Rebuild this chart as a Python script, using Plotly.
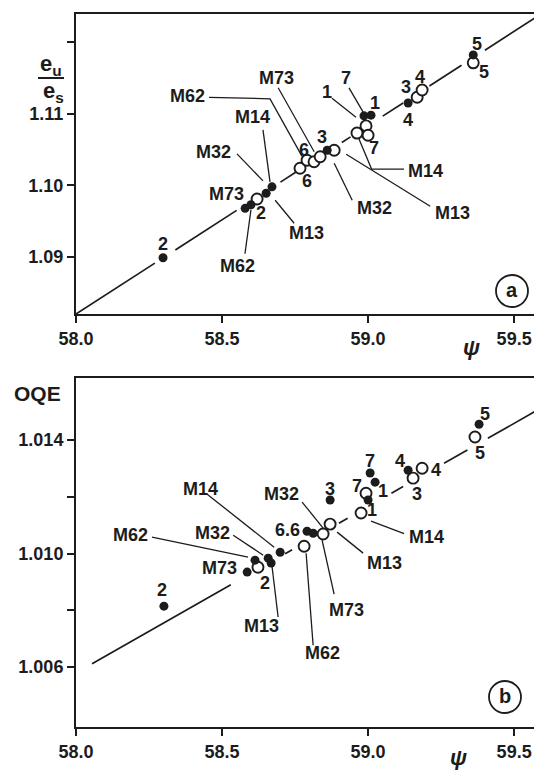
import plotly.graph_objects as go

# page body has an 8px margin; the figure is sized to fit the window
OFF = 8
W, H = 542 - OFF, 771 - OFF

# ---------------- data : panel (a)  e_u/e_s vs psi ----------------
a_filled_x = [58.298, 58.579, 58.599, 58.651, 58.671, 58.860, 58.986, 59.010, 59.137, 59.360]
a_filled_y = [1.0899, 1.0968, 1.0973, 1.0989, 1.0998, 1.1049, 1.1097, 1.1098, 1.1115, 1.1182]
a_open_x = [58.620, 58.767, 58.791, 58.815, 58.836, 58.884, 58.962, 58.993, 59.000, 59.168, 59.185, 59.360]
a_open_y = [1.0981, 1.1024, 1.1035, 1.1033, 1.1040, 1.1049, 1.1073, 1.1083, 1.1070, 1.1123, 1.1133, 1.1171]
a_line_x = [58.0, 59.592]
a_line_y = [1.08206, 1.12391]
a_line_segments = [(58.0, 58.27), (58.34, 58.55), (58.70, 58.76), (58.91, 58.94),
                   (59.05, 59.12), (59.21, 59.32), (59.40, 59.592)]

# ---------------- data : panel (b)  OQE vs psi ----------------
b_filled_x = [58.301, 58.586, 58.613, 58.658, 58.668, 58.699, 58.791, 58.812,
              58.870, 59.007, 59.024, 59.000, 59.137, 59.380]
b_filled_y = [1.00815, 1.00935, 1.00977, 1.00984, 1.00967, 1.01005, 1.01079, 1.01072,
              1.01189, 1.01284, 1.01252, 1.01189, 1.01294, 1.01456]
b_open_x = [58.623, 58.781, 58.846, 58.870, 58.976, 58.993, 59.154, 59.185, 59.366]
b_open_y = [1.00952, 1.01026, 1.01069, 1.01104, 1.01143, 1.01213, 1.01266, 1.01301, 1.01411]
b_line_x = [58.055, 59.592]
b_line_y = [1.00612, 1.01513]
b_line_segments = [(58.055, 58.53), (58.716, 58.74), (58.90, 58.93), (59.08, 59.12),
                   (59.26, 59.34), (59.41, 59.592)]

x_ticks = [58.0, 58.5, 59.0, 59.5]
x_ticktext = ["58.0", "58.5", "59.0", "59.5"]
a_yticks = [1.09, 1.10, 1.11]
a_yticktext = ["1.09", "1.10", "1.11"]
a_yminor = [1.12]
b_yticks = [1.006, 1.010, 1.014]
b_yticktext = ["1.006", "1.010", "1.014"]
b_yminor = [1.008, 1.012]

# labels: (text, series, index, label offset dx, dy [px], leader polyline offsets [px])
a_labels = [
    ("2", "f", 0, 0, -14, None),
    ("M73", "f", 1, -19, -14, None),
    ("2", "f", 1, 16, 5, None),
    ("M13", "f", 3, 40, 40, [(9, 7), (28, 30)]),
    ("M62", "f", 2, -13, 61, [(0, 5), (-6, 49)]),
    ("M32", "f", 4, -58, -35, [(-9, -6), (-35, -33)]),
    ("M14", "f", 4, -19, -70, [(-2, -5), (-9, -57)]),
    ("M62", "o", 2, -119.5, -64, [(-5, -4), (-37, -61.5), (-98, -63)]),
    ("M73", "o", 4, -44, -79, [(-6, -5), (-42, -69)]),
    ("6", "o", 2, -3, -10, None),
    ("6", "o", 1, 7, 13, None),
    ("3", "f", 5, -5, -13, None),
    ("M32", "o", 5, 40, 57.5, [(0, 13), (18, 50)]),
    ("M13", "o", 5, 118, 62.5, [(12, 4), (96, 56)]),
    ("M14", "o", 6, 69, 38, [(2, 6), (14.6, 36), (47, 36)]),
    ("7", "o", 8, 6, 12.5, None),
    ("1", "f", 6, -37.5, -23.5, [(-8, 1.5), (-32, -17.5)]),
    ("7", "f", 6, -18, -37.5, [(-1, -4), (-15, -28)]),
    ("1", "f", 7, 4, -12, None),
    ("3", "f", 8, -2, -15.5, None),
    ("4", "o", 10, -2, -13.5, None),
    ("4", "f", 8, 0, 17, None),
    ("5", "f", 9, 4, -11, None),
    ("5", "o", 11, 11, 9, None),
]
b_labels = [
    ("2", "f", 0, -2, -16, None),
    ("M62", "f", 2, -125, -25, [(-7, -3), (-103, -23)]),
    ("M32", "f", 3, -56, -25, [(-5, -3), (-35, -23)]),
    ("M73", "f", 1, -28, -4.5, None),
    ("2", "o", 0, 7, 15.5, None),
    ("M13", "f", 4, -9.5, 62.5, [(1, 4), (7, 54)]),
    ("M14", "f", 5, -79.5, -63, [(-6, -5), (-73, -58)]),
    ("6.6", "f", 6, -20, -1, None),
    ("M32", "o", 2, -42, -40.5, [(0, -6), (-21, -32)]),
    ("M62", "o", 1, 18, 107, [(2, 7), (9, 99)]),
    ("M73", "o", 2, 23, 76, [(-1, 6), (11, 60)]),
    ("M13", "o", 3, 54.5, 39, [(7, 8), (33, 29)]),
    ("M14", "o", 4, 65, 24, [(10, 8), (43, 20.6)]),
    ("1", "o", 4, 11, -3, None),
    ("7", "o", 5, -9, -7, None),
    ("7", "f", 9, 0, -12, None),
    ("1", "f", 10, 7.5, 8.5, None),
    ("3", "f", 8, 0, -11, None),
    ("4", "f", 12, -8, -9, None),
    ("4", "o", 7, 14, 2, None),
    ("3", "o", 6, 4, 16, None),
    ("5", "f", 13, 6, -10, None),
    ("5", "o", 8, 5, 15.5, None),
]

# ---------------- layout geometry (reference-window pixels) ----------------
X_PX = (76, 541)
A_PX = (14, 314)      # top, bottom of panel a
B_PX = (378, 727)     # top, bottom of panel b
X_RANGE = [58.0, 59.592]
A_RANGE = [1.08206, 1.12391]
B_RANGE = [1.00389, 1.01619]

INK = "#1c1c1c"
FONT = "Liberation Sans, Arial, sans-serif"
LBL = 18


def paper(px, py):
    return (px - OFF) / W, 1 - (py - OFF) / H


def bold(t):
    return "<b>" + t + "</b>"


fig = go.Figure()


def seg_line(xs_line, ys_line, segments):
    slope = (ys_line[1] - ys_line[0]) / (xs_line[1] - xs_line[0])
    xs, ys = [], []
    for s, e in segments:
        xs += [s, e, None]
        ys += [ys_line[0] + slope * (s - xs_line[0]), ys_line[0] + slope * (e - xs_line[0]), None]
    return xs, ys


def add_panel(fx, fy, ox, oy, lx, ly, segs, labels, yr, ypx, xa, ya):
    ux = (X_RANGE[1] - X_RANGE[0]) / (X_PX[1] - X_PX[0])
    uy = (yr[1] - yr[0]) / (ypx[1] - ypx[0])
    sx, sy = seg_line(lx, ly, segs)
    fig.add_trace(go.Scatter(x=sx, y=sy, mode="lines", xaxis=xa, yaxis=ya,
                             line=dict(color=INK, width=1.7), hoverinfo="skip", showlegend=False))
    lxs, lys = [], []
    for text, ser, i, dx, dy, lead in labels:
        px0 = fx[i] if ser == "f" else ox[i]
        py0 = fy[i] if ser == "f" else oy[i]
        if lead:
            for ddx, ddy in lead:
                lxs.append(px0 + ddx * ux)
                lys.append(py0 - ddy * uy)
            lxs.append(None)
            lys.append(None)
    fig.add_trace(go.Scatter(x=lxs, y=lys, mode="lines", xaxis=xa, yaxis=ya,
                             line=dict(color=INK, width=1.3), hoverinfo="skip", showlegend=False))
    fig.add_trace(go.Scatter(x=ox, y=oy, mode="markers", xaxis=xa, yaxis=ya,
                             marker=dict(symbol="circle", size=11, color="white",
                                         line=dict(width=1.9, color=INK)),
                             showlegend=False))
    fig.add_trace(go.Scatter(x=fx, y=fy, mode="markers", xaxis=xa, yaxis=ya,
                             marker=dict(symbol="circle", size=9, color=INK),
                             showlegend=False))
    xref = "x" if xa == "x" else "x2"
    yref = "y" if ya == "y" else "y2"
    for text, ser, i, dx, dy, lead in labels:
        px0 = fx[i] if ser == "f" else ox[i]
        py0 = fy[i] if ser == "f" else oy[i]
        fig.add_annotation(x=px0, y=py0, xref=xref, yref=yref, text=bold(text), showarrow=False,
                           xanchor="center", yanchor="middle",
                           xshift=dx, yshift=-dy, font=dict(size=LBL, color=INK, family=FONT))


add_panel(a_filled_x, a_filled_y, a_open_x, a_open_y, a_line_x, a_line_y, a_line_segments,
          a_labels, A_RANGE, A_PX, "x", "y")
add_panel(b_filled_x, b_filled_y, b_open_x, b_open_y, b_line_x, b_line_y, b_line_segments,
          b_labels, B_RANGE, B_PX, "x2", "y2")

axis_common = dict(showline=True, mirror=True, linewidth=2, linecolor=INK, ticks="outside",
                   ticklen=7, tickwidth=1.6, tickcolor=INK, showgrid=False, zeroline=False,
                   tickfont=dict(size=LBL, color=INK, family=FONT))
minor_common = dict(ticks="outside", ticklen=7, tickwidth=1.6, tickcolor=INK, showgrid=False)

xd = [(X_PX[0] - OFF) / W, (X_PX[1] - OFF) / W]
fig.update_layout(
    width=W, height=H, margin=dict(l=0, r=0, t=0, b=0, autoexpand=False),
    paper_bgcolor="white", plot_bgcolor="white",
    xaxis=dict(domain=xd, range=X_RANGE, anchor="y",
               tickvals=x_ticks, ticktext=[bold(t) for t in x_ticktext], **axis_common),
    yaxis=dict(domain=[1 - (A_PX[1] - OFF) / H, 1 - (A_PX[0] - OFF) / H], range=A_RANGE, anchor="x",
               tickvals=a_yticks, ticktext=[bold(t) for t in a_yticktext],
               minor=dict(tickvals=a_yminor, **minor_common), **axis_common),
    xaxis2=dict(domain=xd, range=X_RANGE, anchor="y2",
                tickvals=x_ticks, ticktext=[bold(t) for t in x_ticktext], **axis_common),
    yaxis2=dict(domain=[1 - (B_PX[1] - OFF) / H, 1 - (B_PX[0] - OFF) / H], range=B_RANGE, anchor="x2",
                tickvals=b_yticks, ticktext=[bold(t) for t in b_yticktext],
                minor=dict(tickvals=b_yminor, **minor_common), **axis_common),
)


def ptext(px, py, text, size):
    x, y = paper(px, py)
    fig.add_annotation(x=x, y=y, xref="paper", yref="paper", text=text, showarrow=False,
                       xanchor="center", yanchor="middle",
                       font=dict(size=size, color=INK, family=FONT))


ptext(51, 65, bold("e<sub>u</sub>"), 22)
ptext(53, 92, bold("e<sub>s</sub>"), 22)
bx0, by = paper(38, 78)
bx1, _ = paper(64, 78)
fig.add_shape(type="line", xref="paper", yref="paper", x0=bx0, x1=bx1, y0=by, y1=by,
              line=dict(color=INK, width=2))
ptext(37, 393, bold("OQE"), 21)
ptext(471, 347, bold("<i>ψ</i>"), 22)
ptext(458, 757, bold("<i>ψ</i>"), 22)

for cx, cy, letter in [(512, 291, "a"), (505, 697, "b")]:
    x, y = paper(cx, cy)
    fig.add_shape(type="circle", xref="paper", yref="paper", xsizemode="pixel", ysizemode="pixel",
                  xanchor=x, yanchor=y, x0=-16, x1=16, y0=-16, y1=16,
                  line=dict(color=INK, width=1.8))
    ptext(cx, cy - 1, bold(letter), 20)

fig.write_html("out.html")
